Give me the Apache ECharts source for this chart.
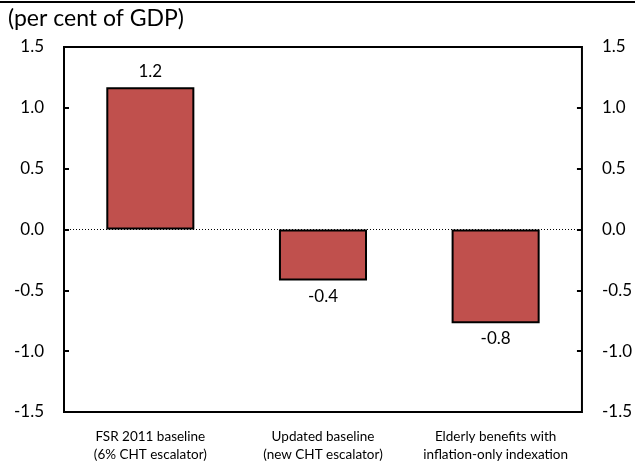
<!DOCTYPE html>
<html>
<head>
<meta charset="utf-8">
<script src="https://cdn.jsdelivr.net/npm/echarts@6/dist/echarts.min.js"></script>
<style>
  html, body { margin: 0; padding: 0; background: #fff; }
  #chart { width: 635px; height: 466px; }
</style>
</head>
<body>
<div id="chart"></div>
<script>
// Change in fiscal balance by scenario (per cent of GDP)
const categories = [
  'FSR 2011 baseline\n(6% CHT escalator)',
  'Updated baseline\n(new CHT escalator)',
  'Elderly benefits with\ninflation-only indexation'
];
const values = [1.17, -0.42, -0.77];
const yTicks = { min: -1.5, max: 1.5, interval: 0.5 };
const unitLabel = '(per cent of GDP)';

const FONT = 'Lato, "Open Sans", sans-serif';
const chart = echarts.init(document.getElementById('chart'));

const yAxisBase = {
  type: 'value',
  min: yTicks.min,
  max: yTicks.max,
  interval: yTicks.interval,
  axisLine: { show: false },
  axisTick: { show: true, inside: true, length: 5, lineStyle: { color: '#000', width: 2 } },
  splitLine: { show: false },
  axisLabel: {
    color: '#000', fontFamily: FONT, fontSize: 17, margin: 20,
    formatter: v => v.toFixed(1)
  }
};

chart.setOption({
  animation: false,
  backgroundColor: '#fff',
  grid: {
    left: 64, right: 53, top: 47, bottom: 54,
    show: true, borderColor: '#000', borderWidth: 2, backgroundColor: 'transparent'
  },
  graphic: [
    { type: 'line', shape: { x1: 0, y1: 2, x2: 635, y2: 2 }, style: { stroke: '#000', lineWidth: 2 } },
    { type: 'text', left: 8, top: 7, style: { text: unitLabel, font: '23px ' + FONT, fill: '#000' } }
  ],
  xAxis: {
    type: 'category',
    data: categories,
    axisLine: { show: false },
    axisTick: { show: false },
    axisLabel: {
      color: '#000', fontFamily: FONT, fontSize: 13.5, lineHeight: 18, margin: 16,
      interval: 0
    }
  },
  yAxis: [
    Object.assign({}, yAxisBase, { position: 'left' }),
    Object.assign({}, yAxisBase, { position: 'right' })
  ],
  series: [{
    type: 'bar',
    barWidth: '51%',
    data: values.map(v => ({
      value: v,
      label: { position: v >= 0 ? 'top' : 'bottom' }
    })),
    itemStyle: { color: '#C0504D', borderColor: '#000', borderWidth: 2 },
    label: {
      show: true, distance: 7, color: '#000', fontFamily: FONT, fontSize: 17,
      formatter: p => p.value.toFixed(1)
    },
    markLine: {
      silent: true,
      symbol: 'none',
      label: { show: false },
      lineStyle: { color: '#000', type: [1, 2], width: 1 },
      data: [{ yAxis: 0 }]
    }
  }]
});
</script>
</body>
</html>
